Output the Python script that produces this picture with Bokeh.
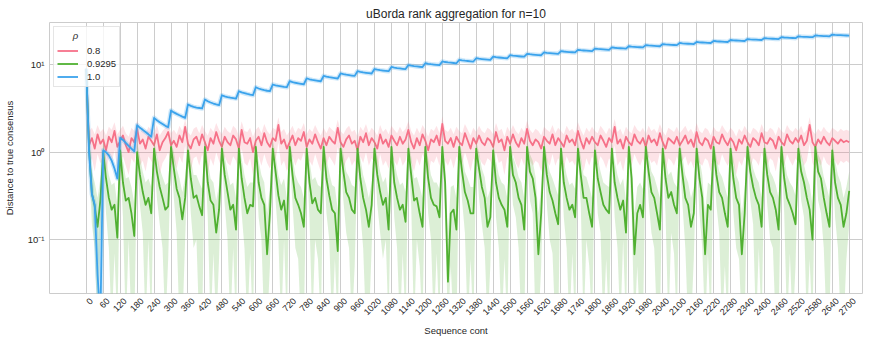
import math
from bokeh.plotting import figure
from bokeh.models import FixedTicker, Range1d, CustomJSTickFormatter, Legend, LegendItem
from bokeh.embed import file_html
from bokeh.resources import INLINE

# ---------------- data ----------------
x_vals = list(range(0, 2701, 10))
x_ticks = list(range(0, 2701, 60))
y_ticks = [0.1, 1, 10]
series_labels = ["0.8", "0.9295", "1.0"]
series_colors = ["#f77189", "#50b131", "#3ba3ec"]

rho_08 = [9.0,
    1.2, 1.45, 1.1, 1.6, 1.25, 1.4, 1.05, 1.5, 1.3, 1.75,
    1.15, 1.35, 1.55, 1.2, 1.0, 1.45, 1.3, 1.85, 1.25, 1.4,
    1.1, 1.5, 1.35, 1.2, 1.6, 1.05, 1.3, 1.45, 1.7, 1.2,
    1.35, 1.15, 1.55, 1.3, 1.95, 1.25, 1.1, 1.4, 1.5, 1.2,
    1.6, 1.3, 1.05, 1.45, 1.25, 1.7, 1.35, 1.15, 1.5, 1.3,
    1.2, 1.55, 1.4, 1.1, 1.8, 1.3, 1.25, 1.45, 1.0, 1.35,
    1.5, 1.2, 1.65, 1.3, 1.15, 1.45, 1.35, 2.05, 1.25, 1.4,
    1.1, 1.3, 1.55, 1.2, 1.45, 1.35, 1.7, 1.15, 1.4, 1.25,
    1.6, 1.3, 1.1, 1.45, 1.2, 1.5, 1.35, 1.25, 1.9, 1.3,
    1.15, 1.4, 1.55, 1.25, 1.35, 1.05, 1.5, 1.3, 1.65, 1.2,
    1.45, 1.3, 1.1, 1.6, 1.25, 1.4, 1.15, 1.55, 1.35, 1.2,
    1.5, 1.25, 1.4, 1.8, 1.3, 1.1, 1.45, 1.2, 1.6, 1.35,
    1.05, 1.4, 1.3, 1.55, 1.2, 2.1, 1.35, 1.25, 1.45, 1.15,
    1.5, 1.3, 1.2, 1.65, 1.35, 1.1, 1.45, 1.25, 1.55, 1.3,
    1.2, 1.45, 1.35, 1.15, 1.7, 1.3, 1.4, 1.05, 1.5, 1.25,
    1.6, 1.3, 1.15, 1.45, 1.25, 1.85, 1.35, 1.2, 1.4, 1.3,
    1.1, 1.5, 1.35, 1.25, 1.6, 1.2, 1.45, 1.3, 1.15, 1.55,
    1.3, 1.4, 1.2, 1.75, 1.35, 1.1, 1.45, 1.25, 1.5, 1.3,
    1.2, 1.55, 1.35, 1.15, 1.45, 1.3, 1.95, 1.25, 1.4, 1.1,
    1.5, 1.3, 1.2, 1.6, 1.35, 1.25, 1.45, 1.15, 1.55, 1.3,
    1.4, 1.2, 1.65, 1.3, 1.1, 1.45, 1.35, 1.25, 1.5, 1.2,
    1.35, 1.55, 1.25, 1.4, 1.15, 1.7, 1.3, 1.2, 1.45, 1.35,
    1.1, 1.5, 1.3, 1.25, 1.6, 1.35, 1.2, 1.45, 1.3, 1.05,
    1.4, 1.25, 1.55, 1.3, 1.15, 1.45, 1.35, 1.2, 1.65, 1.3,
    1.25, 1.45, 1.35, 1.1, 1.5, 1.3, 1.2, 1.6, 1.35, 1.25,
    1.45, 1.3, 1.55, 1.2, 1.35, 2.05, 1.3, 1.15, 1.4, 1.25,
    1.5, 1.3, 1.2, 1.45, 1.35, 1.25, 1.4, 1.3, 1.35, 1.3]

rho_08_hi = [12.0,
    1.75, 1.9, 1.6, 2.05, 1.7, 1.85, 1.55, 1.95, 1.8, 2.2,
    1.6, 1.8, 2.0, 1.65, 1.5, 1.9, 1.75, 2.3, 1.7, 1.85,
    1.6, 1.95, 1.8, 1.65, 2.05, 1.55, 1.75, 1.9, 2.15, 1.65,
    1.8, 1.6, 2.0, 1.75, 2.4, 1.7, 1.55, 1.85, 1.95, 1.65,
    2.05, 1.75, 1.55, 1.9, 1.7, 2.15, 1.8, 1.6, 1.95, 1.75,
    1.65, 2.0, 1.85, 1.55, 2.25, 1.75, 1.7, 1.9, 1.5, 1.8,
    1.95, 1.65, 2.1, 1.75, 1.6, 1.9, 1.8, 2.5, 1.7, 1.85,
    1.55, 1.75, 2.0, 1.65, 1.9, 1.8, 2.15, 1.6, 1.85, 1.7,
    2.05, 1.75, 1.55, 1.9, 1.65, 1.95, 1.8, 1.7, 2.35, 1.75,
    1.6, 1.85, 2.0, 1.7, 1.8, 1.5, 1.95, 1.75, 2.1, 1.65,
    1.9, 1.75, 1.55, 2.05, 1.7, 1.85, 1.6, 2.0, 1.8, 1.65,
    1.95, 1.7, 1.85, 2.25, 1.75, 1.55, 1.9, 1.65, 2.05, 1.8,
    1.5, 1.85, 1.75, 2.0, 1.65, 2.55, 1.8, 1.7, 1.9, 1.6,
    1.95, 1.75, 1.65, 2.1, 1.8, 1.55, 1.9, 1.7, 2.0, 1.75,
    1.65, 1.9, 1.8, 1.6, 2.15, 1.75, 1.85, 1.5, 1.95, 1.7,
    2.05, 1.75, 1.6, 1.9, 1.7, 2.3, 1.8, 1.65, 1.85, 1.75,
    1.55, 1.95, 1.8, 1.7, 2.05, 1.65, 1.9, 1.75, 1.6, 2.0,
    1.75, 1.85, 1.65, 2.2, 1.8, 1.55, 1.9, 1.7, 1.95, 1.75,
    1.65, 2.0, 1.8, 1.6, 1.9, 1.75, 2.4, 1.7, 1.85, 1.55,
    1.95, 1.75, 1.65, 2.05, 1.8, 1.7, 1.9, 1.6, 2.0, 1.75,
    1.85, 1.65, 2.1, 1.75, 1.55, 1.9, 1.8, 1.7, 1.95, 1.65,
    1.8, 2.0, 1.7, 1.85, 1.6, 2.15, 1.75, 1.65, 1.9, 1.8,
    1.55, 1.95, 1.75, 1.7, 2.05, 1.8, 1.65, 1.9, 1.75, 1.5,
    1.85, 1.7, 2.0, 1.75, 1.6, 1.9, 1.8, 1.65, 2.1, 1.75,
    1.7, 1.9, 1.8, 1.55, 1.95, 1.75, 1.65, 2.05, 1.8, 1.7,
    1.9, 1.75, 2.0, 1.65, 1.8, 2.5, 1.75, 1.6, 1.85, 1.7,
    1.95, 1.75, 1.65, 1.9, 1.8, 1.7, 1.85, 1.75, 1.8, 1.75]

rho_08_lo = [6.0,
    0.7, 0.85, 0.6, 0.95, 0.75, 0.8, 0.55, 0.9, 0.75, 1.05,
    0.65, 0.8, 0.9, 0.7, 0.55, 0.85, 0.75, 1.1, 0.7, 0.8,
    0.6, 0.9, 0.8, 0.7, 0.95, 0.55, 0.75, 0.85, 1.0, 0.7,
    0.8, 0.65, 0.9, 0.75, 1.2, 0.7, 0.6, 0.85, 0.9, 0.7,
    0.95, 0.75, 0.55, 0.85, 0.7, 1.0, 0.8, 0.65, 0.9, 0.75,
    0.7, 0.9, 0.8, 0.6, 1.1, 0.75, 0.7, 0.85, 0.55, 0.8,
    0.9, 0.7, 0.95, 0.75, 0.65, 0.85, 0.8, 1.3, 0.7, 0.8,
    0.6, 0.75, 0.9, 0.7, 0.85, 0.8, 1.0, 0.65, 0.8, 0.7,
    0.95, 0.75, 0.6, 0.85, 0.7, 0.9, 0.8, 0.7, 1.15, 0.75,
    0.65, 0.8, 0.9, 0.7, 0.8, 0.55, 0.9, 0.75, 1.0, 0.7,
    0.85, 0.75, 0.6, 0.95, 0.7, 0.8, 0.65, 0.9, 0.8, 0.7,
    0.9, 0.7, 0.8, 1.1, 0.75, 0.6, 0.85, 0.7, 0.95, 0.8,
    0.55, 0.8, 0.75, 0.9, 0.7, 1.3, 0.8, 0.7, 0.85, 0.65,
    0.9, 0.75, 0.7, 1.0, 0.8, 0.6, 0.85, 0.7, 0.9, 0.75,
    0.7, 0.85, 0.8, 0.65, 1.0, 0.75, 0.8, 0.55, 0.9, 0.7,
    0.95, 0.75, 0.65, 0.85, 0.7, 1.1, 0.8, 0.7, 0.8, 0.75,
    0.6, 0.9, 0.8, 0.7, 0.95, 0.7, 0.85, 0.75, 0.65, 0.9,
    0.75, 0.8, 0.7, 1.05, 0.8, 0.6, 0.85, 0.7, 0.9, 0.75,
    0.7, 0.9, 0.8, 0.65, 0.85, 0.75, 1.2, 0.7, 0.8, 0.6,
    0.9, 0.75, 0.7, 0.95, 0.8, 0.7, 0.85, 0.65, 0.9, 0.75,
    0.8, 0.7, 1.0, 0.75, 0.6, 0.85, 0.8, 0.7, 0.9, 0.7,
    0.8, 0.9, 0.7, 0.8, 0.65, 1.0, 0.75, 0.7, 0.85, 0.8,
    0.6, 0.9, 0.75, 0.7, 0.95, 0.8, 0.7, 0.85, 0.75, 0.55,
    0.8, 0.7, 0.9, 0.75, 0.65, 0.85, 0.8, 0.7, 1.0, 0.75,
    0.7, 0.85, 0.8, 0.6, 0.9, 0.75, 0.7, 0.95, 0.8, 0.7,
    0.85, 0.75, 0.9, 0.7, 0.8, 1.25, 0.75, 0.65, 0.8, 0.7,
    0.9, 0.75, 0.7, 0.85, 0.8, 0.7, 0.8, 0.75, 0.8, 0.75]

rho_09295 = [
    9.0, 1.1, 0.34, 0.24, 0.14, 0.28,
    1.0, 0.5, 0.3, 0.22, 0.25, 0.105,
    1.05, 0.45, 0.28, 0.3, 0.2, 0.11,
    1.0, 0.55, 0.35, 0.25, 0.3, 0.2,
    1.1, 0.6, 0.4, 0.3, 0.22, 0.24,
    1.15, 0.65, 0.38, 0.3, 0.17, 0.3,
    1.05, 0.5, 0.3, 0.32, 0.24, 0.19,
    1.15, 0.45, 0.28, 0.25, 0.12, 0.22,
    1.1, 0.55, 0.35, 0.22, 0.25, 0.13,
    1.1, 0.5, 0.3, 0.2, 0.25, 0.24,
    1.15, 0.45, 0.3, 0.25, 0.068, 0.2,
    1.1, 0.6, 0.32, 0.22, 0.28, 0.13,
    1.15, 0.55, 0.3, 0.25, 0.2, 0.14,
    1.1, 0.45, 0.26, 0.3, 0.22, 0.2,
    1.15, 0.5, 0.32, 0.22, 0.2, 0.074,
    1.1, 0.6, 0.35, 0.3, 0.22, 0.2,
    1.1, 0.5, 0.3, 0.22, 0.14, 0.25,
    1.1, 0.55, 0.35, 0.25, 0.3, 0.13,
    1.15, 0.45, 0.3, 0.22, 0.25, 0.16,
    1.1, 0.55, 0.28, 0.3, 0.2, 0.14,
    1.15, 0.5, 0.3, 0.25, 0.24, 0.18,
    1.15, 0.45, 0.033, 0.2, 0.22, 0.13,
    1.15, 0.6, 0.35, 0.28, 0.2, 0.2,
    1.1, 0.65, 0.4, 0.3, 0.14, 0.18,
    1.05, 0.45, 0.3, 0.25, 0.22, 0.14,
    1.15, 0.55, 0.45, 0.3, 0.25, 0.13,
    1.15, 0.6, 0.5, 0.3, 0.068, 0.2,
    1.15, 0.55, 0.35, 0.28, 0.2, 0.15,
    1.1, 0.45, 0.3, 0.22, 0.25, 0.18,
    1.1, 0.55, 0.3, 0.3, 0.2, 0.14,
    1.05, 0.5, 0.35, 0.25, 0.22, 0.2,
    1.1, 0.45, 0.3, 0.22, 0.28, 0.12,
    1.15, 0.5, 0.068, 0.2, 0.25, 0.18,
    1.15, 0.6, 0.35, 0.3, 0.2, 0.13,
    1.1, 0.5, 0.3, 0.35, 0.25, 0.2,
    1.1, 0.55, 0.3, 0.25, 0.14, 0.2,
    1.1, 0.5, 0.3, 0.068, 0.25, 0.22,
    1.15, 0.55, 0.35, 0.3, 0.2, 0.14,
    1.1, 0.5, 0.3, 0.25, 0.068, 0.2,
    1.15, 0.6, 0.4, 0.3, 0.25, 0.14,
    1.1, 0.55, 0.35, 0.3, 0.22, 0.13,
    1.15, 0.5, 0.3, 0.25, 0.2, 0.15,
    1.1, 0.6, 0.45, 0.3, 0.22, 0.1,
    1.15, 0.6, 0.5, 0.3, 0.2, 0.14,
    1.05, 0.45, 0.3, 0.25, 0.14, 0.2,
    0.36]

rho_09295_hi = [
    12.0, 1.5, 0.6, 0.45, 0.3, 0.5,
    1.3, 0.85, 0.55, 0.42, 0.45, 0.25,
    1.35, 0.8, 0.5, 0.52, 0.4, 0.26,
    1.3, 0.9, 0.6, 0.45, 0.5, 0.4,
    1.4, 0.95, 0.65, 0.52, 0.42, 0.45,
    1.4, 1.0, 0.65, 0.5, 0.35, 0.52,
    1.35, 0.85, 0.55, 0.55, 0.45, 0.38,
    1.4, 0.8, 0.5, 0.45, 0.28, 0.42,
    1.4, 0.9, 0.6, 0.42, 0.45, 0.3,
    1.35, 0.85, 0.55, 0.4, 0.45, 0.45,
    1.4, 0.8, 0.55, 0.45, 0.2, 0.4,
    1.4, 0.95, 0.55, 0.42, 0.5, 0.3,
    1.4, 0.9, 0.55, 0.45, 0.4, 0.3,
    1.35, 0.8, 0.48, 0.52, 0.42, 0.4,
    1.4, 0.85, 0.58, 0.42, 0.4, 0.22,
    1.4, 0.95, 0.6, 0.52, 0.42, 0.4,
    1.35, 0.85, 0.55, 0.42, 0.3, 0.45,
    1.4, 0.9, 0.6, 0.45, 0.52, 0.3,
    1.4, 0.8, 0.55, 0.42, 0.45, 0.35,
    1.35, 0.9, 0.5, 0.52, 0.4, 0.3,
    1.4, 0.85, 0.55, 0.45, 0.45, 0.38,
    1.4, 0.8, 0.12, 0.4, 0.42, 0.3,
    1.4, 0.95, 0.6, 0.5, 0.4, 0.4,
    1.35, 1.0, 0.65, 0.52, 0.3, 0.38,
    1.35, 0.8, 0.55, 0.45, 0.42, 0.3,
    1.4, 0.9, 0.72, 0.52, 0.45, 0.3,
    1.4, 0.95, 0.8, 0.52, 0.2, 0.4,
    1.4, 0.9, 0.6, 0.5, 0.4, 0.32,
    1.35, 0.8, 0.55, 0.42, 0.45, 0.38,
    1.35, 0.9, 0.55, 0.52, 0.4, 0.3,
    1.35, 0.85, 0.6, 0.45, 0.42, 0.4,
    1.35, 0.8, 0.55, 0.42, 0.5, 0.28,
    1.4, 0.85, 0.2, 0.4, 0.45, 0.38,
    1.4, 0.95, 0.6, 0.52, 0.4, 0.3,
    1.35, 0.85, 0.55, 0.6, 0.45, 0.4,
    1.4, 0.9, 0.55, 0.45, 0.3, 0.4,
    1.35, 0.85, 0.55, 0.2, 0.45, 0.42,
    1.4, 0.9, 0.6, 0.52, 0.4, 0.3,
    1.35, 0.85, 0.55, 0.45, 0.2, 0.4,
    1.4, 0.95, 0.65, 0.52, 0.45, 0.3,
    1.35, 0.9, 0.6, 0.52, 0.42, 0.3,
    1.4, 0.85, 0.55, 0.45, 0.4, 0.32,
    1.35, 0.95, 0.72, 0.52, 0.42, 0.25,
    1.4, 0.95, 0.8, 0.52, 0.4, 0.3,
    1.35, 0.8, 0.55, 0.45, 0.3, 0.4,
    0.6]

rho_09295_lo = [
    6.0, 0.7, 0.15, 0.08, 0.01, 0.1,
    0.75, 0.2, 0.08, 0.01, 0.07, 0.01,
    0.8, 0.18, 0.01, 0.1, 0.01, 0.01,
    0.75, 0.25, 0.12, 0.01, 0.1, 0.01,
    0.85, 0.3, 0.15, 0.08, 0.01, 0.06,
    0.9, 0.3, 0.12, 0.01, 0.01, 0.1,
    0.8, 0.2, 0.08, 0.1, 0.01, 0.01,
    0.9, 0.18, 0.01, 0.07, 0.01, 0.06,
    0.85, 0.25, 0.1, 0.01, 0.08, 0.01,
    0.85, 0.2, 0.08, 0.01, 0.07, 0.01,
    0.9, 0.18, 0.1, 0.01, 0.01, 0.05,
    0.85, 0.28, 0.1, 0.01, 0.1, 0.01,
    0.9, 0.25, 0.08, 0.06, 0.01, 0.01,
    0.85, 0.18, 0.01, 0.1, 0.06, 0.01,
    0.9, 0.2, 0.1, 0.01, 0.06, 0.01,
    0.85, 0.28, 0.12, 0.08, 0.01, 0.05,
    0.85, 0.2, 0.08, 0.01, 0.01, 0.08,
    0.85, 0.25, 0.12, 0.06, 0.1, 0.01,
    0.9, 0.18, 0.08, 0.01, 0.07, 0.01,
    0.85, 0.25, 0.01, 0.1, 0.05, 0.01,
    0.9, 0.2, 0.1, 0.01, 0.07, 0.01,
    0.9, 0.18, 0.01, 0.05, 0.01, 0.01,
    0.9, 0.28, 0.12, 0.01, 0.06, 0.01,
    0.85, 0.3, 0.15, 0.08, 0.01, 0.05,
    0.8, 0.18, 0.08, 0.01, 0.06, 0.01,
    0.9, 0.25, 0.18, 0.08, 0.01, 0.01,
    0.9, 0.28, 0.2, 0.01, 0.01, 0.05,
    0.9, 0.25, 0.1, 0.07, 0.01, 0.01,
    0.85, 0.18, 0.08, 0.01, 0.07, 0.01,
    0.85, 0.25, 0.01, 0.1, 0.05, 0.01,
    0.8, 0.2, 0.12, 0.01, 0.06, 0.01,
    0.85, 0.18, 0.08, 0.01, 0.1, 0.01,
    0.9, 0.2, 0.01, 0.05, 0.01, 0.01,
    0.9, 0.28, 0.12, 0.08, 0.01, 0.01,
    0.85, 0.2, 0.01, 0.12, 0.07, 0.01,
    0.85, 0.25, 0.08, 0.01, 0.01, 0.06,
    0.85, 0.2, 0.08, 0.01, 0.07, 0.01,
    0.9, 0.25, 0.12, 0.01, 0.05, 0.01,
    0.85, 0.2, 0.08, 0.06, 0.01, 0.01,
    0.9, 0.28, 0.15, 0.01, 0.08, 0.01,
    0.85, 0.25, 0.1, 0.08, 0.01, 0.01,
    0.9, 0.2, 0.01, 0.07, 0.01, 0.05,
    0.85, 0.28, 0.18, 0.01, 0.06, 0.01,
    0.9, 0.28, 0.2, 0.08, 0.01, 0.01,
    0.8, 0.18, 0.08, 0.01, 0.01, 0.06,
    0.15]

rho_10 = [
    9.0, 1.0, 0.33, 0.25, 0.04, 0.012,
    1.05, 1.0, 0.92, 0.8, 0.65, 0.5,
    1.46, 1.38, 1.28, 1.18, 1.1, 1.02,
    2.04, 1.9, 1.8, 1.7, 1.6, 1.5,
    2.47, 2.32, 2.2, 2.1, 2.0, 1.93,
    3.0, 2.85, 2.74, 2.64, 2.55, 2.47,
    3.51, 3.38, 3.3, 3.24, 3.2, 3.16,
    4.0, 3.82, 3.7, 3.6, 3.52, 3.45,
    4.48, 4.35, 4.27, 4.2, 4.15, 4.1,
    4.98, 4.82, 4.72, 4.63, 4.55, 4.48,
    5.53, 5.35, 5.22, 5.12, 5.04, 4.98,
    5.94, 5.82, 5.73, 5.65, 5.58, 5.53,
    6.48, 6.33, 6.22, 6.13, 6.05, 5.98,
    6.97, 6.82, 6.71, 6.62, 6.54, 6.47,
    7.46, 7.31, 7.2, 7.11, 7.03, 6.96,
    7.95, 7.8, 7.69, 7.6, 7.52, 7.45,
    8.44, 8.29, 8.18, 8.09, 8.01, 7.94,
    8.93, 8.78, 8.67, 8.58, 8.5, 8.43,
    9.42, 9.27, 9.16, 9.07, 8.99, 8.92,
    9.91, 9.76, 9.65, 9.56, 9.48, 9.41,
    10.4, 10.25, 10.14, 10.05, 9.97, 9.9,
    10.89, 10.74, 10.63, 10.54, 10.46, 10.39,
    11.38, 11.23, 11.12, 11.03, 10.95, 10.88,
    11.87, 11.72, 11.61, 11.52, 11.44, 11.37,
    12.36, 12.21, 12.1, 12.01, 11.93, 11.86,
    12.85, 12.7, 12.59, 12.5, 12.42, 12.35,
    13.34, 13.19, 13.08, 12.99, 12.91, 12.84,
    13.83, 13.68, 13.57, 13.48, 13.4, 13.33,
    14.32, 14.17, 14.06, 13.97, 13.89, 13.82,
    14.81, 14.66, 14.55, 14.46, 14.38, 14.31,
    15.3, 15.15, 15.04, 14.95, 14.87, 14.8,
    15.78, 15.63, 15.52, 15.43, 15.35, 15.28,
    16.27, 16.12, 16.01, 15.92, 15.84, 15.77,
    16.76, 16.61, 16.5, 16.41, 16.33, 16.26,
    17.24, 17.09, 16.98, 16.89, 16.81, 16.74,
    17.73, 17.58, 17.47, 17.38, 17.3, 17.23,
    18.21, 18.06, 17.95, 17.86, 17.78, 17.71,
    18.7, 18.55, 18.44, 18.35, 18.27, 18.2,
    19.18, 19.03, 18.92, 18.83, 18.75, 18.68,
    19.67, 19.52, 19.41, 19.32, 19.24, 19.17,
    20.16, 20.01, 19.9, 19.81, 19.73, 19.66,
    20.64, 20.49, 20.38, 20.29, 20.21, 20.14,
    21.13, 20.98, 20.87, 20.78, 20.7, 20.63,
    21.61, 21.46, 21.35, 21.26, 21.18, 21.11,
    22.1, 21.95, 21.84, 21.75, 21.67, 21.6,
    21.55]

for arr in (rho_08, rho_08_hi, rho_08_lo, rho_09295, rho_09295_hi, rho_09295_lo, rho_10):
    assert len(arr) == len(x_vals), len(arr)

# ---------------- figure ----------------
FONT = "Liberation Sans"
TXT = "#262626"
GRID = "#cccccc"
X0, X1 = -130, 2747
LABEL_SHIFT = 18  # centre rotated tick labels on their ticks (matplotlib ha="center")

p = figure(width=891, height=342, y_axis_type="log",
           x_range=Range1d(X0, X1), y_range=Range1d(0.0242, 30.4),
           output_backend="svg", toolbar_location=None,
           min_border_left=48, min_border_right=29,
           min_border_top=22, min_border_bottom=49,
           background_fill_color="white", border_fill_color="white")
p.extra_x_ranges = {"lbl": Range1d(X0 - LABEL_SHIFT, X1 - LABEL_SHIFT)}

p.title.text = "uBorda rank aggregation for n=10"
p.title.align = "center"
p.title.text_font = FONT
p.title.text_font_size = "12px"
p.title.text_font_style = "normal"
p.title.text_color = TXT
p.title.standoff = 4
p.title.offset = 0

p.outline_line_color = GRID
p.outline_line_width = 1

xa = p.xaxis[0]
xa.x_range_name = "lbl"
xa.ticker = FixedTicker(ticks=x_ticks, minor_ticks=[])
xa.major_label_orientation = math.pi / 4
xa.axis_label = "Sequence cont"

ya = p.yaxis[0]
ya.ticker = FixedTicker(ticks=y_ticks, minor_ticks=[])
ya.formatter = CustomJSTickFormatter(code="""
const e = Math.round(Math.log10(tick));
const sup = {'-': '\u207b', '0': '\u2070', '1': '\u00b9', '2': '\u00b2', '3': '\u00b3',
             '4': '\u2074', '5': '\u2075', '6': '\u2076', '7': '\u2077', '8': '\u2078', '9': '\u2079'};
return '10' + String(e).split('').map(c => sup[c]).join('');
""")
ya.axis_label = "Distance to true consensus"

for ax in (xa, ya):
    ax.axis_line_color = None
    ax.major_tick_line_color = None
    ax.minor_tick_line_color = None
    ax.major_tick_out = 0
    ax.major_tick_in = 0
    ax.major_label_text_font = FONT
    ax.major_label_text_font_size = "9px"
    ax.major_label_text_color = TXT
    ax.axis_label_text_font = FONT
    ax.axis_label_text_font_size = "9.5px"
    ax.axis_label_text_font_style = "normal"
    ax.axis_label_text_color = TXT
ya.major_label_text_font_size = "9.5px"
xa.major_label_standoff = 6
xa.axis_label_standoff = 4
ya.major_label_standoff = 5
ya.axis_label_standoff = 10

p.xgrid[0].ticker = FixedTicker(ticks=x_ticks, minor_ticks=[])
p.ygrid[0].ticker = FixedTicker(ticks=y_ticks, minor_ticks=[])
for g in (p.xgrid[0], p.ygrid[0]):
    g.grid_line_color = GRID
    g.grid_line_width = 1

LW = 1.8
c08, c09, c10 = series_colors
r08 = p.line(x_vals, rho_08, line_color=c08, line_width=LW, line_join="round")
p.varea(x=x_vals, y1=rho_08_lo, y2=rho_08_hi, fill_color=c08, fill_alpha=0.2)
r09 = p.line(x_vals, rho_09295, line_color=c09, line_width=LW, line_join="round")
p.varea(x=x_vals, y1=rho_09295_lo, y2=rho_09295_hi, fill_color=c09, fill_alpha=0.2)
p.line(x_vals, rho_10, line_color=c10, line_width=4.5, line_alpha=0.25, line_join="round")
r10 = p.line(x_vals, rho_10, line_color=c10, line_width=LW, line_join="round")

legend = Legend(items=[LegendItem(label=series_labels[0], renderers=[r08]),
                       LegendItem(label=series_labels[1], renderers=[r09]),
                       LegendItem(label=series_labels[2], renderers=[r10])],
                location="top_left")
legend.title = "\u00a0" * 6 + "\u03c1"
legend.title_text_font = FONT
legend.title_text_font_style = "italic"
legend.title_text_font_size = "9.5px"
legend.title_text_color = TXT
legend.title_standoff = 3
legend.label_text_font = FONT
legend.label_text_font_size = "9.5px"
legend.label_text_color = TXT
legend.glyph_width = 21
legend.glyph_height = 13
legend.label_height = 13
legend.label_standoff = 9
legend.spacing = 0
legend.padding = 3
legend.margin = 4
legend.border_line_color = GRID
legend.border_line_width = 1
legend.background_fill_alpha = 0.8
p.add_layout(legend)

open("out.html", "w").write(file_html(p, INLINE))
